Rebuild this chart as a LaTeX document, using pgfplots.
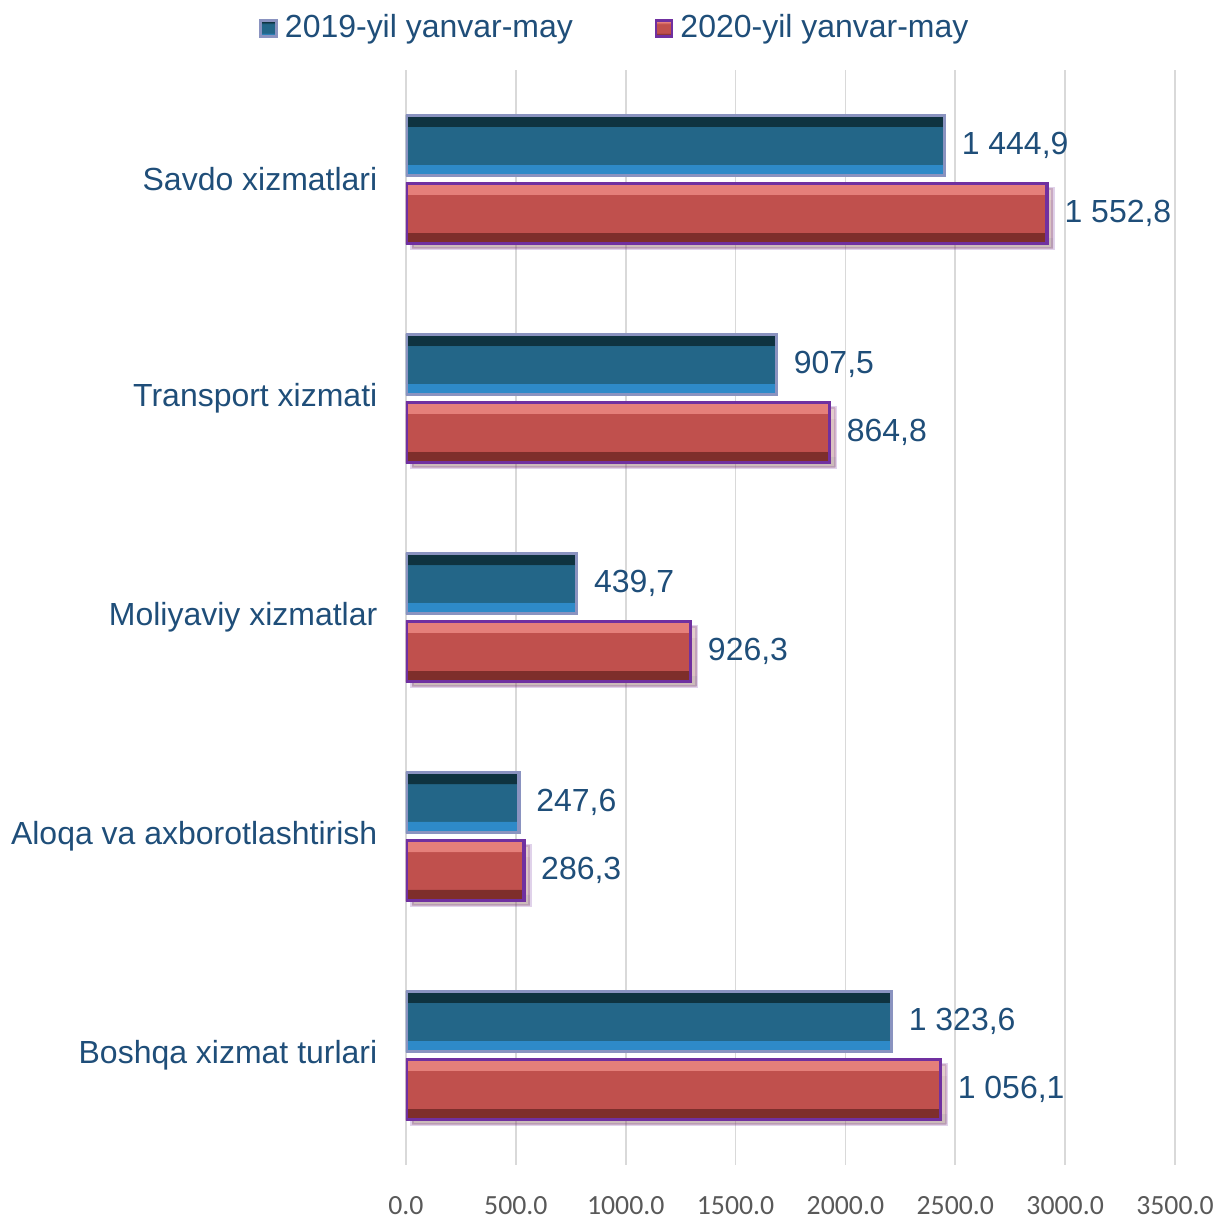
\documentclass[border=0pt]{standalone}
\usepackage{pgfplots}
\pgfplotsset{compat=1.18}
\usetikzlibrary{shadows}
\usepackage{fontspec}
\setmainfont{Liberation Sans}
\newfontfamily\carlito{Carlito}
\definecolor{txt}{HTML}{1F4E79}
\definecolor{tick}{HTML}{595959}
\definecolor{gridc}{HTML}{D9D9D9}
\definecolor{bedge}{HTML}{8A93C0}
\definecolor{redge}{HTML}{7030A0}
\definecolor{btop}{HTML}{0F3340}
\definecolor{bmid}{HTML}{236688}
\definecolor{bbot}{HTML}{2E8AC8}
\definecolor{rtop}{HTML}{E57F7A}
\definecolor{rmid}{HTML}{C0504D}
\definecolor{rbot}{HTML}{7E2E2B}
\pgfdeclareverticalshading{blueb}{100bp}{color(0bp)=(bbot); color(34bp)=(bbot); color(34.5bp)=(bmid); color(65.5bp)=(bmid); color(66bp)=(btop); color(100bp)=(btop)}
\pgfdeclareverticalshading{redb}{100bp}{color(0bp)=(rbot); color(34bp)=(rbot); color(34.5bp)=(rmid); color(65.5bp)=(rmid); color(66bp)=(rtop); color(100bp)=(rtop)}
\begin{document}
\begin{tikzpicture}
\begin{axis}[
  at={(0,0)}, anchor=south west,
  scale only axis, width=76.9mm, height=109.5mm,
  xbar, bar width=0.274,
  xmin=0, xmax=3500,
  ymin=-0.5, ymax=4.5, y dir=reverse,
  xtick={0,500,...,3500},
  ytick={0,1,2,3,4},
  yticklabels={Savdo xizmatlari, Transport xizmati, Moliyaviy xizmatlar, Aloqa va axborotlashtirish, Boshqa xizmat turlari},
  yticklabel style={font=\fontsize{9.1}{11}\selectfont, text=txt, inner sep=0pt, xshift=-2.8mm},
  xticklabel style={font=\carlito\fontsize{7.9}{9}\selectfont, text=tick, inner sep=0pt, yshift=-3.1mm},
  /pgf/number format/assume math mode=true,
  xticklabel={\pgfmathprintnumber[fixed, fixed zerofill, precision=1, 1000 sep={}]{\tick}},
  scaled x ticks=false,
  xmajorgrids, major grid style={gridc, line width=0.5pt},
  axis line style={draw=none}, major tick length=0pt,
  point meta=explicit symbolic,
  nodes near coords,
  every node near coord/.append style={font=\fontsize{9.1}{11}\selectfont, text=txt, anchor=west, xshift=0.4mm},
  legend style={at={(0.275,1.038)}, anchor=center, draw=none, fill=none, legend columns=2,
    font=\fontsize{9.1}{11}\selectfont, text=txt},
  /tikz/every even column/.append style={column sep=7.5mm},
  legend image code/.code={\draw[#1] (0mm,-0.8mm) rectangle (1.6mm,0.8mm);},
  bluebar/.style={bar shift=-0.155, draw=bedge, line width=0.35mm, shading=blueb},
  redbar/.style={bar shift=0.155, draw=redge, line width=0.35mm, shading=redb,
    drop shadow={opacity=0.22, shadow xshift=0.6mm, shadow yshift=-0.5mm}},
]
\addlegendimage{draw=bedge, line width=0.25mm, shading=blueb}
\addlegendentry{2019-yil yanvar-may}
\addlegendimage{draw=redge, line width=0.25mm, shading=redb}
\addlegendentry{2020-yil yanvar-may}
\addplot[bluebar, forget plot] coordinates {(2450,0) [1 444,9]};
\addplot[redbar, forget plot] coordinates {(2918,0) [1 552,8]};
\addplot[bluebar, forget plot] coordinates {(1686,1) [907,5]};
\addplot[redbar, forget plot] coordinates {(1927,1) [864,8]};
\addplot[bluebar, forget plot] coordinates {(777,2) [439,7]};
\addplot[redbar, forget plot] coordinates {(1295,2) [926,3]};
\addplot[bluebar, forget plot] coordinates {(514,3) [247,6]};
\addplot[redbar, forget plot] coordinates {(536,3) [286,3]};
\addplot[bluebar, forget plot] coordinates {(2209,4) [1 323,6]};
\addplot[redbar, forget plot] coordinates {(2432,4) [1 056,1]};
\end{axis}
\path (-40.6mm,-5.4mm) rectangle (81.0mm,116.5mm);
\end{tikzpicture}
\end{document}
